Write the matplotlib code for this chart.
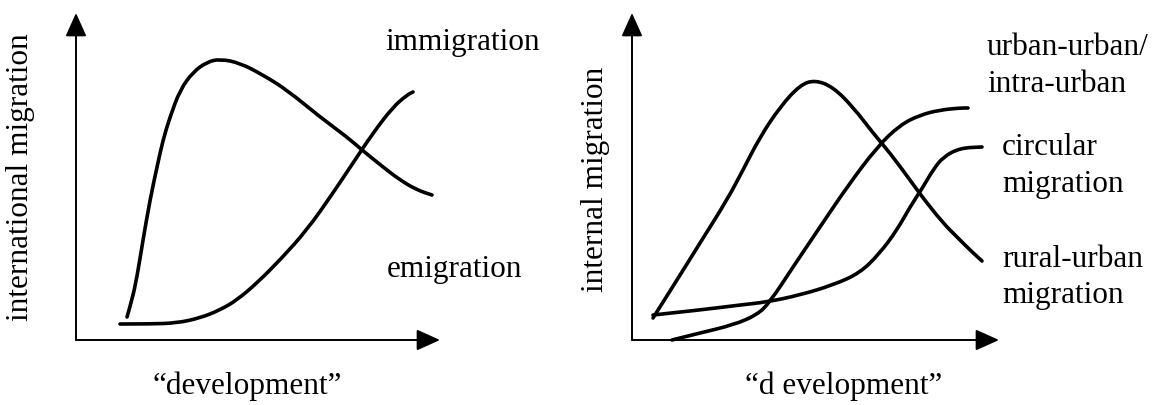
import matplotlib
matplotlib.use("Agg")
import matplotlib.pyplot as plt
from matplotlib.path import Path
from matplotlib.patches import PathPatch

plt.rcParams['font.family'] = ['Liberation Serif', 'DejaVu Serif']

# left panel: international migration (x = development, y = migration level)
emig_x = [51, 56, 61, 67, 74, 81, 87, 94, 104, 117, 131, 144, 164, 187, 211, 244, 271, 286, 307, 324, 341, 356]
emig_y = [23, 40, 63, 100, 140, 173, 200, 223, 250, 268, 278, 281, 277, 265, 250, 223, 203, 190, 173, 160, 150, 145]
immig_x = [44, 74, 101, 124, 144, 161, 181, 204, 231, 257, 277, 297, 317, 331, 337]
immig_y = [16, 16, 17, 22, 30, 40, 57, 80, 110, 147, 177, 207, 233, 245, 248]

# right panel: internal migration
rural_x = [21, 45, 68, 95, 111, 128, 148, 168, 183, 201, 221, 241, 258, 278, 291, 311, 326, 338, 350]
rural_y = [22, 60, 97, 140, 170, 203, 233, 255, 260, 253, 233, 207, 187, 160, 142, 117, 102, 90, 79]
urban_x = [40, 68, 101, 125, 138, 161, 188, 215, 245, 268, 288, 308, 328, 336]
urban_y = [0, 7, 15, 25, 38, 73, 113, 153, 193, 215, 225, 230, 232, 232]
circ_x = [21, 68, 108, 135, 168, 201, 228, 248, 265, 278, 291, 301, 311, 328, 350]
circ_y = [25, 30, 35, 38, 45, 55, 67, 87, 110, 133, 153, 170, 183, 192, 193]

W, H = 1156, 405
FS = 22.5


def smooth_curve(ax, xs, ys):
    pts = list(zip(xs, ys))
    verts = [pts[0]]
    codes = [Path.MOVETO]
    for i in range(1, len(pts) - 1):
        mid = ((pts[i][0] + pts[i + 1][0]) / 2, (pts[i][1] + pts[i + 1][1]) / 2)
        verts += [pts[i], mid]
        codes += [Path.CURVE3, Path.CURVE3]
    verts.append(pts[-1])
    codes.append(Path.LINETO)
    ax.add_patch(PathPatch(Path(verts, codes), fill=False, lw=2.6, edgecolor='black',
                           capstyle='round', joinstyle='round', clip_on=False))


def arrow_axes(ax, xmax, ymax):
    props = dict(arrowstyle='-|>,head_length=1.0,head_width=0.45', mutation_scale=14.4,
                 lw=1.4, color='black', shrinkA=0, shrinkB=0)
    ax.annotate('', xy=(xmax, 0), xytext=(0, 0), arrowprops=props, annotation_clip=False)
    ax.annotate('', xy=(0, ymax), xytext=(0, 0), arrowprops=props, annotation_clip=False)


fig = plt.figure(figsize=(W / 100, H / 100), dpi=100)

# left panel, origin at pixel (76, 340)
ax1 = fig.add_axes([76 / W, 65 / H, 364 / W, 327 / H])
ax1.set_xlim(0, 364)
ax1.set_ylim(0, 327)
ax1.axis('off')
arrow_axes(ax1, 364, 327)
smooth_curve(ax1, emig_x, emig_y)
smooth_curve(ax1, immig_x, immig_y)
ax1.text(309, 290, 'immigration', fontsize=FS, ha='left', va='baseline')
ax1.text(311, 63, 'emigration', fontsize=FS, ha='left', va='baseline')
ax1.text(-55, 163, 'international migration', fontsize=FS, rotation=90, ha='center', va='center')
ax1.text(171, -54, '\u201cdevelopment\u201d', fontsize=FS, ha='center', va='baseline')

# right panel, origin at pixel (632, 340)
ax2 = fig.add_axes([632 / W, 65 / H, 367 / W, 327 / H])
ax2.set_xlim(0, 367)
ax2.set_ylim(0, 327)
ax2.axis('off')
arrow_axes(ax2, 367, 327)
smooth_curve(ax2, rural_x, rural_y)
smooth_curve(ax2, urban_x, urban_y)
smooth_curve(ax2, circ_x, circ_y)

right_labels = [(355, 285, 'urban-urban/'), (355, 248, 'intra-urban'),
                (370, 185, 'circular'), (370, 148, 'migration'),
                (370, 73, 'rural-urban'), (370, 37, 'migration')]
for x, y, s in right_labels:
    ax2.text(x, y, s, fontsize=FS, ha='left', va='baseline')
ax2.text(-37, 161, 'internal migration', fontsize=FS, rotation=90, ha='center', va='center')
ax2.text(212, -54, '\u201cd evelopment\u201d', fontsize=FS, ha='center', va='baseline')

fig.savefig('out.png', dpi=100, facecolor='white')
